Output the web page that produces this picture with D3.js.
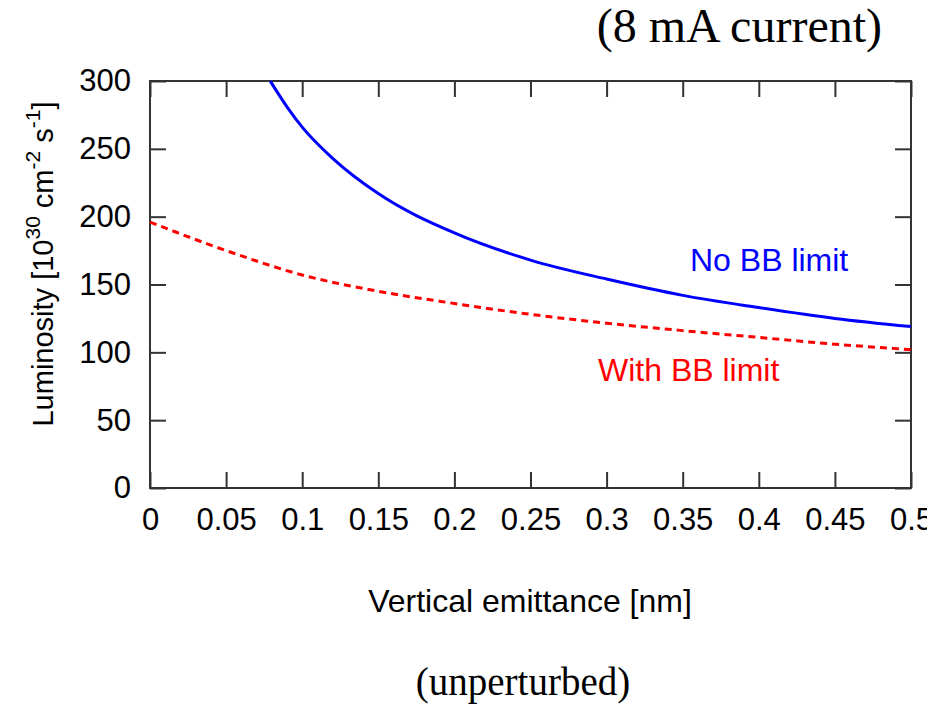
<!DOCTYPE html>
<html>
<head>
<meta charset="utf-8">
<script src="https://cdn.jsdelivr.net/npm/d3@7"></script>
<style>
  body { margin: 0; background: #fff; }
  svg { display: block; }
  .tick text { font-family: "Liberation Sans", Arial, sans-serif; font-size: 31px; fill: #000; }
</style>
</head>
<body>
<svg id="chart" width="927" height="704"></svg>
<script>
// ── data ──────────────────────────────────────────────
const noBBEmit = [0.079, 0.09, 0.1, 0.12, 0.15, 0.2, 0.25, 0.3, 0.35, 0.4, 0.45, 0.5];
const noBBLumi = [300, 281, 266, 243, 217, 188, 168, 154, 142, 133, 125, 119];
const bbEmit   = [0, 0.05, 0.1, 0.15, 0.2, 0.25, 0.3, 0.35, 0.4, 0.45, 0.5];
const bbLumi   = [196, 175, 157, 145, 136, 128, 121.5, 116, 111, 106, 102];
const xTicks = [0, 0.05, 0.1, 0.15, 0.2, 0.25, 0.3, 0.35, 0.4, 0.45, 0.5];
const yTicks = [0, 50, 100, 150, 200, 250, 300];

// ── layout ────────────────────────────────────────────
const M = { left: 150, top: 81, right: 911, bottom: 488 };
const svg = d3.select('#chart');
const FONT = '"Liberation Sans", Arial, sans-serif';
const SERIF = '"Liberation Serif", "Times New Roman", serif';

const x = d3.scaleLinear().domain([0, 0.5]).range([M.left, M.right]);
const y = d3.scaleLinear().domain([0, 300]).range([M.bottom, M.top]);
const TL = 16;

const fmt = d => d === 0 ? '0' : String(d);

// bottom axis
svg.append('g')
  .attr('transform', `translate(0,${M.bottom})`)
  .call(d3.axisBottom(x).tickValues(xTicks).tickFormat(fmt).tickSize(-TL).tickPadding(20))
  .call(g => g.select('.domain').remove());
// top axis (mirror ticks)
svg.append('g')
  .attr('transform', `translate(0,${M.top})`)
  .call(d3.axisTop(x).tickValues(xTicks).tickFormat('').tickSize(-TL))
  .call(g => g.select('.domain').remove());
// left axis
svg.append('g')
  .attr('transform', `translate(${M.left},0)`)
  .call(d3.axisLeft(y).tickValues(yTicks).tickSize(-TL).tickPadding(19))
  .call(g => g.select('.domain').remove());
// right axis (mirror ticks)
svg.append('g')
  .attr('transform', `translate(${M.right},0)`)
  .call(d3.axisRight(y).tickValues(yTicks).tickFormat('').tickSize(-TL))
  .call(g => g.select('.domain').remove());

svg.selectAll('.tick line').attr('stroke', '#333').attr('stroke-width', 2);

// frame
svg.append('rect')
  .attr('x', M.left).attr('y', M.top)
  .attr('width', M.right - M.left).attr('height', M.bottom - M.top)
  .attr('fill', 'none').attr('stroke', '#333').attr('stroke-width', 2);

// ── curves ────────────────────────────────────────────
const line = d3.line().x(d => x(d[0])).y(d => y(d[1])).curve(d3.curveMonotoneX);

svg.append('path')
  .datum(noBBEmit.map((e, i) => [e, noBBLumi[i]]))
  .attr('d', line)
  .attr('fill', 'none').attr('stroke', '#0000ff').attr('stroke-width', 3);

svg.append('path')
  .datum(bbEmit.map((e, i) => [e, bbLumi[i]]))
  .attr('d', line)
  .attr('fill', 'none').attr('stroke', '#ff0000').attr('stroke-width', 3)
  .attr('stroke-dasharray', '7,5');

// ── labels ────────────────────────────────────────────
svg.append('text').attr('x', 690).attr('y', 271)
  .attr('font-family', FONT).attr('font-size', 32).attr('fill', '#0000ff')
  .text('No BB limit');
svg.append('text').attr('x', 598).attr('y', 381)
  .attr('font-family', FONT).attr('font-size', 32).attr('fill', '#ff0000')
  .text('With BB limit');

svg.append('text').attr('x', 530).attr('y', 612)
  .attr('text-anchor', 'middle')
  .attr('font-family', FONT).attr('font-size', 32)
  .text('Vertical emittance [nm]');

const yl = svg.append('text')
  .attr('transform', 'translate(53,264) rotate(-90)')
  .attr('text-anchor', 'middle')
  .attr('font-family', FONT).attr('font-size', 29);
yl.append('tspan').text('Luminosity [10');
yl.append('tspan').attr('dy', -13).attr('font-size', 21).text('30');
yl.append('tspan').attr('dy', 13).text(' cm');
yl.append('tspan').attr('dy', -13).attr('font-size', 21).text('-2');
yl.append('tspan').attr('dy', 13).text(' s');
yl.append('tspan').attr('dy', -13).attr('font-size', 21).text('-1');
yl.append('tspan').attr('dy', 13).text(']');

svg.append('text').attr('x', 882).attr('y', 42)
  .attr('text-anchor', 'end')
  .attr('font-family', SERIF).attr('font-size', 48)
  .text('(8 mA current)');

svg.append('text').attr('x', 523).attr('y', 695)
  .attr('text-anchor', 'middle')
  .attr('font-family', SERIF).attr('font-size', 39)
  .text('(unperturbed)');
</script>
</body>
</html>
